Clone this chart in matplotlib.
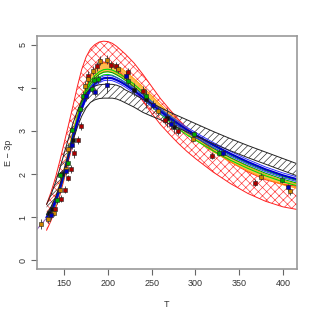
import numpy as np
import matplotlib
matplotlib.use("Agg")
import matplotlib.pyplot as plt

plt.rcParams['font.family'] = ['Liberation Sans', 'DejaVu Sans']
plt.rcParams['hatch.linewidth'] = 0.45

# ---------------- data ----------------
T_grid = [130, 135, 140, 145, 150, 155, 160, 165, 170, 175, 180, 185, 190, 195,
          200, 205, 210, 215, 220, 230, 240, 250, 260, 270, 280, 290, 300,
          320, 340, 360, 380, 400, 416]

red_mid = [1.00, 1.25, 1.55, 1.90, 2.30, 2.72, 3.15, 3.60, 4.02, 4.35, 4.58, 4.72, 4.80, 4.83,
           4.82, 4.78, 4.70, 4.60, 4.50, 4.27, 4.00, 3.72, 3.45, 3.22, 3.00, 2.80, 2.62,
           2.30, 2.03, 1.80, 1.62, 1.50, 1.45]
red_hw = [0.30, 0.33, 0.36, 0.40, 0.42, 0.42, 0.42, 0.42, 0.40, 0.36, 0.32, 0.28, 0.26, 0.25,
          0.25, 0.25, 0.26, 0.27, 0.28, 0.30, 0.31, 0.31, 0.30, 0.29, 0.28, 0.27, 0.26,
          0.25, 0.25, 0.25, 0.25, 0.26, 0.27]

black_mid = [1.18, 1.38, 1.63, 1.93, 2.28, 2.63, 2.97, 3.27, 3.52, 3.70, 3.82, 3.88, 3.91, 3.92,
             3.92, 3.92, 3.90, 3.86, 3.80, 3.70, 3.58, 3.49, 3.40, 3.30, 3.21, 3.12, 3.03,
             2.85, 2.68, 2.52, 2.37, 2.22, 2.10]
black_hw = [0.12, 0.14, 0.17, 0.19, 0.20, 0.20, 0.20, 0.19, 0.18, 0.17, 0.16, 0.16, 0.16, 0.16,
            0.16, 0.16, 0.16, 0.16, 0.15, 0.15, 0.15, 0.15, 0.14, 0.14, 0.14, 0.14, 0.14,
            0.14, 0.14, 0.14, 0.14, 0.14, 0.14]

orange_mid = [1.00, 1.17, 1.38, 1.70, 2.05, 2.47, 2.90, 3.30, 3.66, 3.96, 4.17, 4.32, 4.42, 4.47,
              4.48, 4.46, 4.42, 4.36, 4.29, 4.12, 3.94, 3.74, 3.54, 3.35, 3.17, 3.00, 2.85,
              2.57, 2.33, 2.12, 1.94, 1.80, 1.72]
orange_hw = [0.05, 0.06, 0.07, 0.08, 0.09, 0.10, 0.10, 0.10, 0.10, 0.10, 0.10, 0.10, 0.10, 0.10,
             0.10, 0.10, 0.10, 0.10, 0.09, 0.09, 0.08, 0.08, 0.07, 0.07, 0.06, 0.06, 0.06,
             0.05, 0.05, 0.05, 0.05, 0.05, 0.05]

green_mid = [1.00, 1.15, 1.35, 1.65, 2.00, 2.45, 2.88, 3.25, 3.62, 3.92, 4.10, 4.22, 4.31, 4.36,
             4.37, 4.35, 4.30, 4.24, 4.17, 4.02, 3.84, 3.62, 3.45, 3.28, 3.12, 2.97, 2.85,
             2.60, 2.38, 2.19, 2.02, 1.88, 1.79]
green_hw = 0.06

blue_mid = [1.00, 1.15, 1.36, 1.66, 2.02, 2.43, 2.84, 3.20, 3.52, 3.78, 3.96, 4.09, 4.17, 4.22,
            4.23, 4.22, 4.18, 4.13, 4.07, 3.93, 3.78, 3.62, 3.46, 3.31, 3.17, 3.03, 2.91,
            2.68, 2.47, 2.28, 2.11, 1.97, 1.88]
blue_hw = 0.055

violet_T = [119, 124, 130]
violet_v = [0.72, 0.84, 0.98]

# data points: temperature, value, error
dred_T = [139, 146.6, 150.8, 154.2, 157.6, 161.7, 165.5, 169.7, 177, 187, 204, 209, 223, 240,
          264.8, 279.9, 319, 368]
dred_v = [1.18, 1.43, 1.64, 1.91, 2.12, 2.48, 2.79, 3.11, 4.28, 4.50, 4.53, 4.50, 4.36, 3.93,
          3.26, 3.00, 2.43, 1.80]
dred_e = [0.08, 0.08, 0.08, 0.08, 0.10, 0.10, 0.10, 0.10, 0.10, 0.10, 0.10, 0.10, 0.10, 0.10,
          0.10, 0.10, 0.08, 0.08]

orng_T = [124, 131.5, 138, 145, 152.6, 154.5, 174, 177.6, 183.3, 191, 198.5, 211.7, 257, 297,
          374.6, 408]
orng_v = [0.85, 0.97, 1.10, 1.63, 2.12, 2.59, 4.05, 4.20, 4.40, 4.63, 4.65, 4.44, 3.46, 2.82,
          1.94, 1.60]
orng_e = [0.12, 0.10, 0.08, 0.08, 0.10, 0.10, 0.10, 0.10, 0.10, 0.10, 0.10, 0.10, 0.10, 0.08,
          0.08, 0.08]

grn_T = [142, 145.8, 154.5, 159, 168, 172, 181.4, 184, 189, 223, 243, 298.9, 327, 398.5]
grn_v = [1.39, 1.97, 2.26, 3.02, 3.51, 3.82, 3.97, 4.18, 4.20, 4.16, 3.80, 2.92, 2.49, 1.87]
grn_e = [0.08, 0.08, 0.08, 0.10, 0.10, 0.10, 0.10, 0.10, 0.10, 0.10, 0.10, 0.08, 0.08, 0.08]

blu_T = [135, 152, 159, 175, 185, 198.5, 221, 251.5, 272, 331.8, 405.7]
blu_v = [1.05, 2.08, 2.68, 3.80, 3.90, 4.07, 4.28, 3.61, 3.15, 2.49, 1.69]
blu_e = [0.08, 0.10, 0.10, 0.10, 0.10, 0.20, 0.10, 0.10, 0.10, 0.08, 0.08]

blk_T = [133, 136, 148, 160, 230, 243, 268, 276]
blk_v = [1.10, 1.20, 2.00, 2.80, 3.95, 3.75, 3.30, 3.10]
blk_e = [0.10, 0.10, 0.10, 0.10, 0.15, 0.22, 0.22, 0.15]

x_ticks = [150, 200, 250, 300, 350, 400]
y_ticks = [0, 1, 2, 3, 4, 5]

# ---------------- figure ----------------
fig = plt.figure(figsize=(3.16, 3.16), dpi=100)
ax = fig.add_axes([37 / 316, 47 / 316, 260 / 316, 233 / 316])

T = np.array(T_grid)

def band(mid, hw):
    m = np.array(mid, dtype=float)
    h = np.array(hw, dtype=float) if np.ndim(hw) else np.full_like(m, hw)
    return m - h, m + h

# red hatched band
lo, hi = band(red_mid, red_hw)
ax.fill_between(T, lo, hi, facecolor='none', edgecolor='#ff3030', hatch='xxxx', linewidth=0)
ax.plot(T, lo, color='#ff2020', lw=0.7)
ax.plot(T, hi, color='#ff2020', lw=0.7)

# orange filled band
lo, hi = band(orange_mid, orange_hw)
ax.fill_between(T, lo, hi, facecolor='#ffb030', edgecolor='none', alpha=0.85)
ax.plot(T, lo, color='#ff9900', lw=0.6)
ax.plot(T, hi, color='#ff9900', lw=0.6)

# green band
lo, hi = band(green_mid, green_hw)
ax.plot(T, lo, color='#00dd00', lw=0.8)
ax.plot(T, hi, color='#00dd00', lw=0.8)
ax.plot(T, green_mid, color='#00aa00', lw=0.8)

# blue band
lo, hi = band(blue_mid, blue_hw)
ax.plot(T, lo, color='#3030ff', lw=0.7)
ax.plot(T, hi, color='#3030ff', lw=0.7)
ax.plot(T, blue_mid, color='#0000cc', lw=1.6)

# black hatched band
lo, hi = band(black_mid, black_hw)
ax.fill_between(T, lo, hi, facecolor='none', edgecolor='#222222', hatch='/////', linewidth=0)
ax.plot(T, lo, color='#222222', lw=0.7)
ax.plot(T, hi, color='#222222', lw=0.7)

ax.plot(violet_T, violet_v, color='#9966cc', lw=0.8)

# data points
for xs, vs, es, col in [(blk_T, blk_v, blk_e, '#111111'),
                        (dred_T, dred_v, dred_e, '#aa0000'),
                        (orng_T, orng_v, orng_e, '#cc8400'),
                        (grn_T, grn_v, grn_e, '#00aa00'),
                        (blu_T, blu_v, blu_e, '#0000bb')]:
    ax.errorbar(xs, vs, yerr=es, fmt='s', ms=3.4, mfc=col, mec='#222222', mew=0.4,
                ecolor='#333333', elinewidth=0.6, capsize=0, zorder=5)

ax.set_xlim(119, 416)
ax.set_ylim(-0.2, 5.2)
ax.set_xticks(x_ticks)
ax.set_yticks(y_ticks)
ax.set_yticklabels([str(v) for v in y_ticks], rotation=90, va='center')
ax.tick_params(axis='both', direction='out', length=4, width=0.8, color='#666666',
               labelsize=6.5, labelcolor='#333333', pad=3)
for s in ax.spines.values():
    s.set_color('#999999')
    s.set_linewidth(1.2)

ax.set_xlabel('T', fontsize=6.5, color='#333333', labelpad=9)
ax.set_ylabel('E \u2212 3p', fontsize=6.5, color='#333333', labelpad=4)

fig.savefig('out.png', dpi=100)
